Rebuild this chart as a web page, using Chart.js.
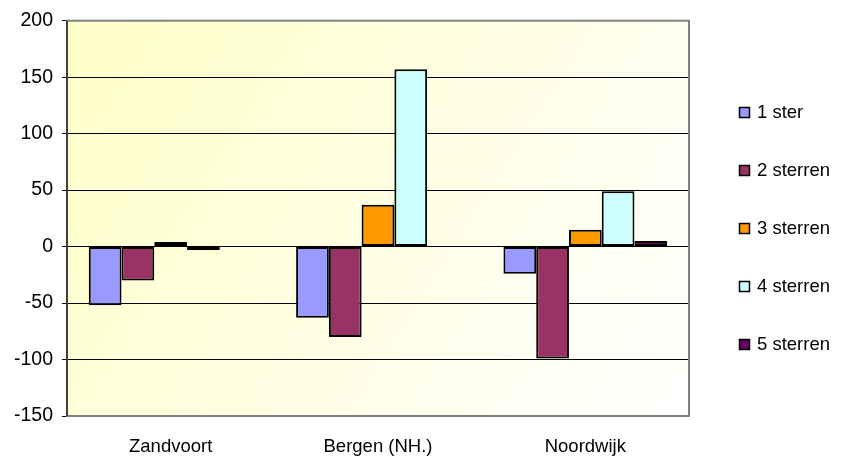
<!DOCTYPE html>
<html>
<head>
<meta charset="utf-8">
<script src="https://cdn.jsdelivr.net/npm/chart.js@4/dist/chart.umd.min.js"></script>
<style>
  html, body { margin: 0; padding: 0; background: #fff; }
  #wrap { width: 843px; height: 457px; }
</style>
</head>
<body>
<div id="wrap"><canvas id="sterrenChart"></canvas></div>
<script>
const plaatsen = ['Zandvoort', 'Bergen (NH.)', 'Noordwijk'];
const ster1 = [-52, -63, -24];
const ster2 = [-30, -80, -99];
const ster3 = [4, 37, 15];
const ster4 = [-3, 157, 49];
const ster5 = [0, 0, 5];
const reeksNamen = ['1 ster', '2 sterren', '3 sterren', '4 sterren', '5 sterren'];
const reeksKleuren = ['#9999FF', '#993366', '#FF9900', '#CCFFFF', '#660066'];
const yTicks = [-150, -100, -50, 0, 50, 100, 150, 200];

const FONT = '"Liberation Sans", Arial, sans-serif';

// gradient fill behind the plot area
const achtergrond = {
  id: 'achtergrond',
  beforeDraw(chart) {
    const { ctx, chartArea: a } = chart;
    const g = ctx.createLinearGradient(a.left, a.top, a.right, a.bottom);
    g.addColorStop(0, '#FFFFC8');
    g.addColorStop(1, '#FFFFFF');
    ctx.save();
    ctx.fillStyle = g;
    ctx.fillRect(a.left, a.top, a.right - a.left, a.bottom - a.top);
    ctx.restore();
  },
  beforeDatasetsDraw(chart) {
    const { ctx, chartArea: a } = chart;
    ctx.save();
    ctx.strokeStyle = '#808080';
    ctx.lineWidth = 2;
    ctx.strokeRect(a.left, a.top, a.right - a.left, a.bottom - a.top);
    ctx.strokeStyle = '#404040';
    ctx.beginPath();
    ctx.moveTo(a.left, a.top);
    ctx.lineTo(a.left, a.bottom);
    ctx.stroke();
    ctx.restore();
  }
};

// legend drawn by hand so the spacing can be wide
const legenda = {
  id: 'legenda',
  afterDraw(chart) {
    const { ctx } = chart;
    ctx.save();
    ctx.font = '18.5px ' + FONT;
    ctx.textBaseline = 'middle';
    chart.data.datasets.forEach((ds, i) => {
      const y = 112 + i * 58;
      ctx.fillStyle = ds.backgroundColor;
      ctx.fillRect(739, y - 5, 11, 11);
      ctx.strokeStyle = '#000';
      ctx.lineWidth = 1.5;
      ctx.strokeRect(739.5, y - 4.5, 10, 10);
      ctx.fillStyle = '#000';
      ctx.fillText(ds.label, 757, y + 1);
    });
    ctx.restore();
  }
};

const reeksen = [ster1, ster2, ster3, ster4, ster5];

new Chart(document.getElementById('sterrenChart'), {
  type: 'bar',
  data: {
    labels: plaatsen,
    datasets: reeksen.map((d, i) => ({
      label: reeksNamen[i],
      data: d,
      backgroundColor: reeksKleuren[i],
      borderColor: '#000',
      borderWidth: 2,
      borderSkipped: false,
      barPercentage: 1,
      categoryPercentage: 0.79
    }))
  },
  options: {
    responsive: true,
    maintainAspectRatio: false,
    animation: false,
    layout: { padding: { top: 20, right: 154, left: 0, bottom: 0 } },
    plugins: { legend: { display: false }, tooltip: { enabled: false } },
    scales: {
      x: {
        grid: { display: false },
        border: { display: false },
        ticks: { color: '#000', font: { family: FONT, size: 18.5 }, padding: 12 },
        afterFit(s) { s.height = 41; }
      },
      y: {
        min: -150,
        max: 200,
        afterBuildTicks(s) { s.ticks = yTicks.map(v => ({ value: v })); },
        grid: { color: '#000', lineWidth: 1, tickLength: 5 },
        border: { display: false },
        ticks: { color: '#000', font: { family: FONT, size: 19.5 }, padding: 9 },
        afterFit(s) { s.width = 67; }
      }
    }
  },
  plugins: [achtergrond, legenda]
});
</script>
</body>
</html>
